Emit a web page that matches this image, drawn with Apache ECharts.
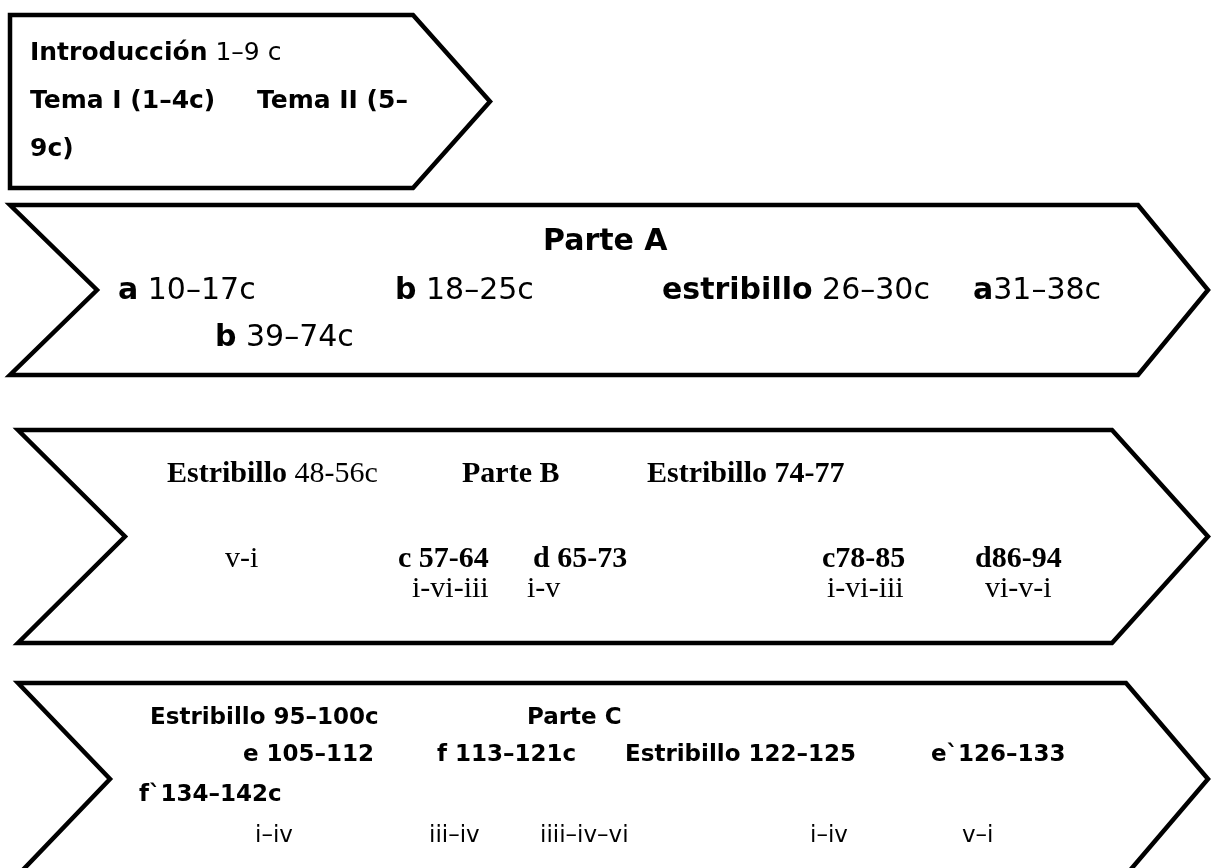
<!DOCTYPE html>
<html>
<head>
<meta charset="utf-8">
<script src="https://cdn.jsdelivr.net/npm/echarts@6/dist/echarts.min.js"></script>
<style>
  html, body { margin: 0; background: #fff; }
  #forma { width: 1211px; height: 868px; }
</style>
</head>
<body>
<div id="forma"></div>
<script>
// contorno de cada bloque: [izq, arriba, fin del cuerpo, abajo, punta, muesca]
const bloques = [
  [10, 15, 413, 188, 490, 10],
  [10, 205, 1138, 375, 1208, 97],
  [18, 430, 1112, 643, 1208, 125],
  [18, 683, 1126, 875, 1208, 110],
];

// textos de cada bloque: [texto, x, y]
const introTextos = [
  ['{b|Introducción} {n|1–9 c}', 30, 53],
  ['{b|Tema I (1–4c)}', 30, 101],
  ['{b|Tema II (5–}', 257, 101],
  ['{b|9c)}', 30, 149],
];
const parteATextos = [
  ['{b|Parte A}', 543, 242],
  ['{b|a} {n|10–17c}', 118, 291],
  ['{b|b} {n|18–25c}', 395, 291],
  ['{b|estribillo} {n|26–30c}', 662, 291],
  ['{b|a}{n|31–38c}', 973, 291],
  ['{b|b} {n|39–74c}', 215, 338],
];
const parteBTextos = [
  ['{b|Estribillo} {n|48-56c}', 167, 474],
  ['{b|Parte B}', 462, 474],
  ['{b|Estribillo 74-77}', 647, 474],
  ['{n|v-i}', 225, 559],
  ['{b|c 57-64}', 398, 559],
  ['{b|d 65-73}', 533, 559],
  ['{b|c78-85}', 822, 559],
  ['{b|d86-94}', 975, 559],
  ['{n|i-vi-iii}', 412, 589],
  ['{n|i-v}', 527, 589],
  ['{n|i-vi-iii}', 827, 589],
  ['{n|vi-v-i}', 985, 589],
];
const parteCTextos = [
  ['{b|Estribillo 95–100c}', 150, 718],
  ['{b|Parte C}', 527, 718],
  ['{b|e 105–112}', 243, 755],
  ['{b|f 113–121c}', 437, 755],
  ['{b|Estribillo 122–125}', 625, 755],
  ['{b|e`126–133}', 931, 755],
  ['{b|f`134–142c}', 139, 795],
  ['{n|i–iv}', 255, 836],
  ['{n|iii–iv}', 429, 836],
  ['{n|iiii–iv–vi}', 540, 836],
  ['{n|i–iv}', 810, 836],
  ['{n|v–i}', 962, 836],
];

const sans = 'DejaVu Sans';
const serif = 'Liberation Serif';

function estilo(familia, tam) {
  return {
    b: { fontFamily: familia, fontSize: tam, fontWeight: 'bold', fill: '#000' },
    n: { fontFamily: familia, fontSize: tam, fontWeight: 'normal', fill: '#000' },
  };
}

// serie de textos sobre los ejes ocultos
function serieTexto(filas, familia, tam) {
  const rich = estilo(familia, tam);
  return {
    type: 'custom',
    silent: true,
    z: 3,
    data: filas.map(f => [f[1], f[2]]),
    encode: { x: 0, y: 1 },
    renderItem: function (params, api) {
      const p = api.coord([api.value(0), api.value(1)]);
      return {
        type: 'text',
        x: p[0],
        y: p[1],
        style: {
          text: filas[params.dataIndex][0],
          rich: rich,
          fontFamily: familia,
          fontSize: tam,
          fill: '#000',
          align: 'left',
          verticalAlign: 'middle',
        },
      };
    },
  };
}

const chart = echarts.init(document.getElementById('forma'));

chart.setOption({
  animation: false,
  backgroundColor: '#fff',
  grid: { left: 0, right: 0, top: 0, bottom: 0 },
  xAxis: { type: 'value', min: 0, max: 1211, show: false },
  yAxis: { type: 'value', min: 0, max: 868, inverse: true, show: false },
  series: [
    {
      // flechas
      type: 'custom',
      silent: true,
      z: 1,
      data: bloques,
      encode: { x: [0, 2, 4, 5], y: [1, 3] },
      renderItem: function (params, api) {
        const izq = api.value(0), arr = api.value(1), fin = api.value(2);
        const aba = api.value(3), punta = api.value(4), muesca = api.value(5);
        const medio = (arr + aba) / 2;
        const puntos = [
          [izq, arr], [fin, arr], [punta, medio],
          [fin, aba], [izq, aba], [muesca, medio],
        ].map(q => api.coord(q));
        return {
          type: 'polygon',
          shape: { points: puntos },
          style: { fill: '#fff', stroke: '#000', lineWidth: 4.5, lineJoin: 'miter' },
        };
      },
    },
    serieTexto(introTextos, sans, 25),
    serieTexto(parteATextos, sans, 30),
    serieTexto(parteBTextos, serif, 30),
    serieTexto(parteCTextos, sans, 23),
  ],
});
</script>
</body>
</html>
